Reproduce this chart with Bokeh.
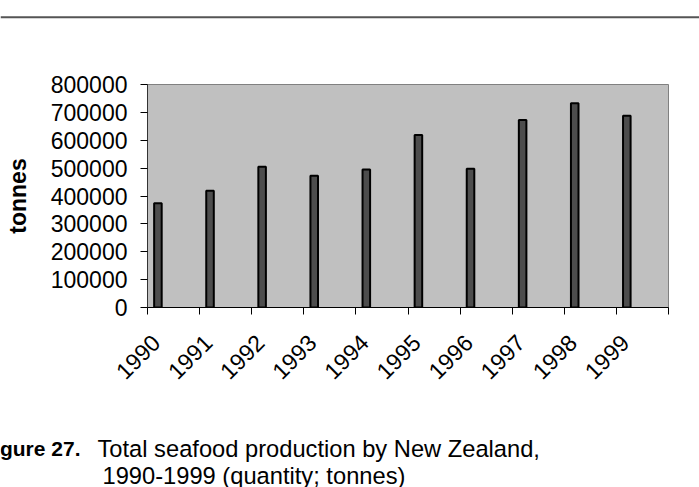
import numpy as np
from math import pi
from bokeh.plotting import figure
from bokeh.layouts import column
from bokeh.models import (Range1d, FixedTicker, LinearAxis, Span, BasicTickFormatter)
from bokeh.core.properties import value
from bokeh.embed import file_html
from bokeh.resources import INLINE

# ---- data ----
years = ["1990", "1991", "1992", "1993", "1994", "1995", "1996", "1997", "1998", "1999"]
tonnes = [374000, 419000, 505000, 473000, 495000, 619000, 498000, 673000, 733000, 688000]
y_ticks = [0, 100000, 200000, 300000, 400000, 500000, 600000, 700000, 800000]
caption_bold = "gure 27."
caption_line1 = "Total seafood production by New Zealand,"
caption_line2 = "1990-1999 (quantity; tonnes)"
y_label = "tonnes"

FONT = "Liberation Sans"
W = 699

idx = np.arange(len(years))
bar_x = idx + 0.2            # bars sit left of the category centre (Excel style)
label_pos = idx + 0.16       # anchor of rotated year labels


def blank_fig(h):
    f = figure(width=W, height=h, output_backend="svg", toolbar_location=None,
               x_range=Range1d(0, W), y_range=Range1d(0, h),
               x_axis_type=None, y_axis_type=None, min_border=0,
               frame_align=False)
    f.outline_line_color = None
    f.background_fill_color = "white"
    f.border_fill_color = "white"
    f.xgrid.visible = False
    f.ygrid.visible = False
    return f


# ---- top rule ----
TOP_H = 28
top = blank_fig(TOP_H)
top.add_layout(Span(location=TOP_H - 16.7, dimension="width",
                    line_color="#555555", line_width=2))

# ---- main chart ----
MAIN_H = 372
p = figure(width=W, height=MAIN_H, output_backend="svg", toolbar_location=None,
           x_range=Range1d(0, len(years)), y_range=Range1d(0, 800000),
           x_axis_type=None, y_axis_type=None, frame_align=False,
           min_border_left=147, min_border_right=31, min_border_top=56,
           min_border_bottom=93)
p.background_fill_color = "#C0C0C0"
p.border_fill_color = "white"
p.outline_line_color = "#808080"
p.outline_line_width = 1

yaxis = LinearAxis(ticker=FixedTicker(ticks=y_ticks, minor_ticks=[]),
                   formatter=BasicTickFormatter(use_scientific=False))
yaxis.axis_line_color = "#333333"
yaxis.major_tick_out = 7
yaxis.major_tick_in = 0
yaxis.major_tick_line_color = "black"
yaxis.major_label_standoff = 13
yaxis.major_label_text_font = FONT
yaxis.major_label_text_font_size = "23px"
yaxis.major_label_text_color = "black"
yaxis.axis_label = y_label
yaxis.axis_label_text_font = FONT
yaxis.axis_label_text_font_size = "23px"
yaxis.axis_label_text_font_style = "bold"
yaxis.axis_label_text_color = "black"
yaxis.axis_label_standoff = 17
p.add_layout(yaxis, "left")

xaxis = LinearAxis(ticker=FixedTicker(ticks=list(label_pos),
                                      minor_ticks=list(range(len(years) + 1))))
xaxis.major_label_overrides = {float(v): y for v, y in zip(label_pos, years)}
xaxis.axis_line_color = "black"
xaxis.major_tick_out = 0
xaxis.major_tick_in = 0
xaxis.minor_tick_out = 7
xaxis.minor_tick_in = 0
xaxis.minor_tick_line_color = "black"
xaxis.major_label_orientation = pi / 4
xaxis.major_label_standoff = 24
xaxis.major_label_text_font = FONT
xaxis.major_label_text_font_size = "23px"
xaxis.major_label_text_color = "black"
p.add_layout(xaxis, "below")

p.xgrid.visible = False
p.ygrid.ticker = FixedTicker(ticks=y_ticks)
p.ygrid.grid_line_color = "black"
p.ygrid.grid_line_width = 1

p.vbar(x=bar_x, top=tonnes, bottom=0, width=0.145,
       fill_color="#4D4D4D", line_color="black", line_width=2)

# ---- caption ----
CAP_H = 487 - TOP_H - MAIN_H
cap = blank_fig(CAP_H)
cap.text(x=[80], y=[CAP_H - 48], text=[caption_bold], text_align="right",
         text_baseline="alphabetic", text_font=value(FONT), text_font_size="21px",
         text_font_style="bold", text_color="black")
cap.text(x=[97], y=[CAP_H - 48], text=[caption_line1], text_align="left",
         text_baseline="alphabetic", text_font=value(FONT), text_font_size="23.7px",
         text_color="black")
cap.text(x=[102], y=[CAP_H - 75], text=[caption_line2], text_align="left",
         text_baseline="alphabetic", text_font=value(FONT), text_font_size="23.7px",
         text_color="black")

layout = column(top, p, cap, spacing=0)
open("out.html", "w").write(file_html(layout, INLINE))
